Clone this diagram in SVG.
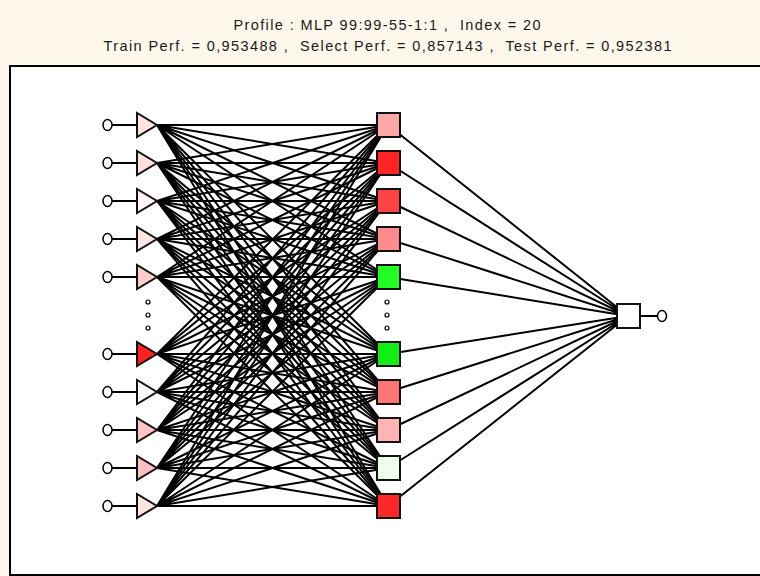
<svg xmlns="http://www.w3.org/2000/svg" width="760" height="576" viewBox="0 0 760 576">
<style>
.title{font-family:"Liberation Sans",Arial,sans-serif;font-size:14.5px;fill:#1a1a1a;white-space:pre}
.ln{stroke:#000;stroke-width:2;fill:none}
.nd{stroke:#111;stroke-width:2}
.io{fill:#fff;stroke:#000;stroke-width:1.5}
.dot{fill:#fff;stroke:#000;stroke-width:1.2}
</style>
<rect x="0" y="0" width="760" height="576" fill="#fef8ec"/>
<rect x="10" y="66" width="760" height="509" fill="#fff" stroke="#000" stroke-width="2"/>
<text class="title" x="387" y="30" text-anchor="middle" textLength="307" lengthAdjust="spacing">Profile : MLP 99:99-55-1:1 ,  Index = 20</text>
<text class="title" x="387.5" y="51" text-anchor="middle" textLength="568" lengthAdjust="spacing">Train Perf. = 0,953488 ,  Select Perf. = 0,857143 ,  Test Perf. = 0,952381</text>
<g id="connectors">
<path class="ln" stroke-width="1.6" d="M112 125H137M112 163H137M112 201H137M112 239H137M112 277H137M112 354H137M112 392H137M112 430H137M112 468H137M112 506H137M640 316H657"/>
<path class="ln" d="M157 125L388 125M157 125L388 163M157 125L388 201M157 125L388 239M157 125L388 277M157 125L388 354M157 125L388 392M157 125L388 430M157 125L388 468M157 125L388 506"/>
<path class="ln" d="M157 163L388 125M157 163L388 163M157 163L388 201M157 163L388 239M157 163L388 277M157 163L388 354M157 163L388 392M157 163L388 430M157 163L388 468M157 163L388 506"/>
<path class="ln" d="M157 201L388 125M157 201L388 163M157 201L388 201M157 201L388 239M157 201L388 277M157 201L388 354M157 201L388 392M157 201L388 430M157 201L388 468M157 201L388 506"/>
<path class="ln" d="M157 239L388 125M157 239L388 163M157 239L388 201M157 239L388 239M157 239L388 277M157 239L388 354M157 239L388 392M157 239L388 430M157 239L388 468M157 239L388 506"/>
<path class="ln" d="M157 277L388 125M157 277L388 163M157 277L388 201M157 277L388 239M157 277L388 277M157 277L388 354M157 277L388 392M157 277L388 430M157 277L388 468M157 277L388 506"/>
<path class="ln" d="M157 354L388 125M157 354L388 163M157 354L388 201M157 354L388 239M157 354L388 277M157 354L388 354M157 354L388 392M157 354L388 430M157 354L388 468M157 354L388 506"/>
<path class="ln" d="M157 392L388 125M157 392L388 163M157 392L388 201M157 392L388 239M157 392L388 277M157 392L388 354M157 392L388 392M157 392L388 430M157 392L388 468M157 392L388 506"/>
<path class="ln" d="M157 430L388 125M157 430L388 163M157 430L388 201M157 430L388 239M157 430L388 277M157 430L388 354M157 430L388 392M157 430L388 430M157 430L388 468M157 430L388 506"/>
<path class="ln" d="M157 468L388 125M157 468L388 163M157 468L388 201M157 468L388 239M157 468L388 277M157 468L388 354M157 468L388 392M157 468L388 430M157 468L388 468M157 468L388 506"/>
<path class="ln" d="M157 506L388 125M157 506L388 163M157 506L388 201M157 506L388 239M157 506L388 277M157 506L388 354M157 506L388 392M157 506L388 430M157 506L388 468M157 506L388 506"/>
<path class="ln" stroke-width="1.6" d="M388 125L628 316M388 163L628 316M388 201L628 316M388 239L628 316M388 277L628 316M388 354L628 316M388 392L628 316M388 430L628 316M388 468L628 316M388 506L628 316"/>
</g>
<g id="input1"><ellipse class="io" cx="107.5" cy="125" rx="4.5" ry="5.5"/><polygon class="nd" fill="#ffe4e4" points="137,113 137,137 157,125"/></g>
<g id="input2"><ellipse class="io" cx="107.5" cy="163" rx="4.5" ry="5.5"/><polygon class="nd" fill="#ffe0e0" points="137,151 137,175 157,163"/></g>
<g id="input3"><ellipse class="io" cx="107.5" cy="201" rx="4.5" ry="5.5"/><polygon class="nd" fill="#fff4f4" points="137,189 137,213 157,201"/></g>
<g id="input4"><ellipse class="io" cx="107.5" cy="239" rx="4.5" ry="5.5"/><polygon class="nd" fill="#ffe6e6" points="137,227 137,251 157,239"/></g>
<g id="input5"><ellipse class="io" cx="107.5" cy="277" rx="4.5" ry="5.5"/><polygon class="nd" fill="#ffcccc" points="137,265 137,289 157,277"/></g>
<g id="input-dots"><circle class="dot" cx="148" cy="302" r="2"/><circle class="dot" cx="148" cy="315" r="2"/><circle class="dot" cx="148" cy="328" r="2"/></g>
<g id="input6"><ellipse class="io" cx="107.5" cy="354" rx="4.5" ry="5.5"/><polygon class="nd" fill="#ff2020" points="137,342 137,366 157,354"/></g>
<g id="input7"><ellipse class="io" cx="107.5" cy="392" rx="4.5" ry="5.5"/><polygon class="nd" fill="#fff8fa" points="137,380 137,404 157,392"/></g>
<g id="input8"><ellipse class="io" cx="107.5" cy="430" rx="4.5" ry="5.5"/><polygon class="nd" fill="#ffc4c4" points="137,418 137,442 157,430"/></g>
<g id="input9"><ellipse class="io" cx="107.5" cy="468" rx="4.5" ry="5.5"/><polygon class="nd" fill="#ffc0c0" points="137,456 137,480 157,468"/></g>
<g id="input10"><ellipse class="io" cx="107.5" cy="506" rx="4.5" ry="5.5"/><polygon class="nd" fill="#ffe4e4" points="137,494 137,518 157,506"/></g>
<g id="hidden1"><rect class="nd" fill="#ffa8a8" x="377" y="113" width="23" height="24"/></g>
<g id="hidden2"><rect class="nd" fill="#ff2424" x="377" y="151" width="23" height="24"/></g>
<g id="hidden3"><rect class="nd" fill="#ff4444" x="377" y="189" width="23" height="24"/></g>
<g id="hidden4"><rect class="nd" fill="#ff8c8c" x="377" y="227" width="23" height="24"/></g>
<g id="hidden5"><rect class="nd" fill="#22ff22" x="377" y="265" width="23" height="24"/></g>
<g id="hidden-dots"><circle class="dot" cx="387" cy="302" r="2"/><circle class="dot" cx="387" cy="315" r="2"/><circle class="dot" cx="387" cy="328" r="2"/></g>
<g id="hidden6"><rect class="nd" fill="#11ee11" x="377" y="342" width="23" height="24"/></g>
<g id="hidden7"><rect class="nd" fill="#ff7474" x="377" y="380" width="23" height="24"/></g>
<g id="hidden8"><rect class="nd" fill="#ffb4b4" x="377" y="418" width="23" height="24"/></g>
<g id="hidden9"><rect class="nd" fill="#eeffee" x="377" y="456" width="23" height="24"/></g>
<g id="hidden10"><rect class="nd" fill="#ff2828" x="377" y="494" width="23" height="24"/></g>
<g id="output"><rect class="nd" fill="#fff" x="617" y="304" width="23" height="24"/><ellipse class="io" cx="662" cy="316" rx="4.5" ry="5.5"/></g>
</svg>
